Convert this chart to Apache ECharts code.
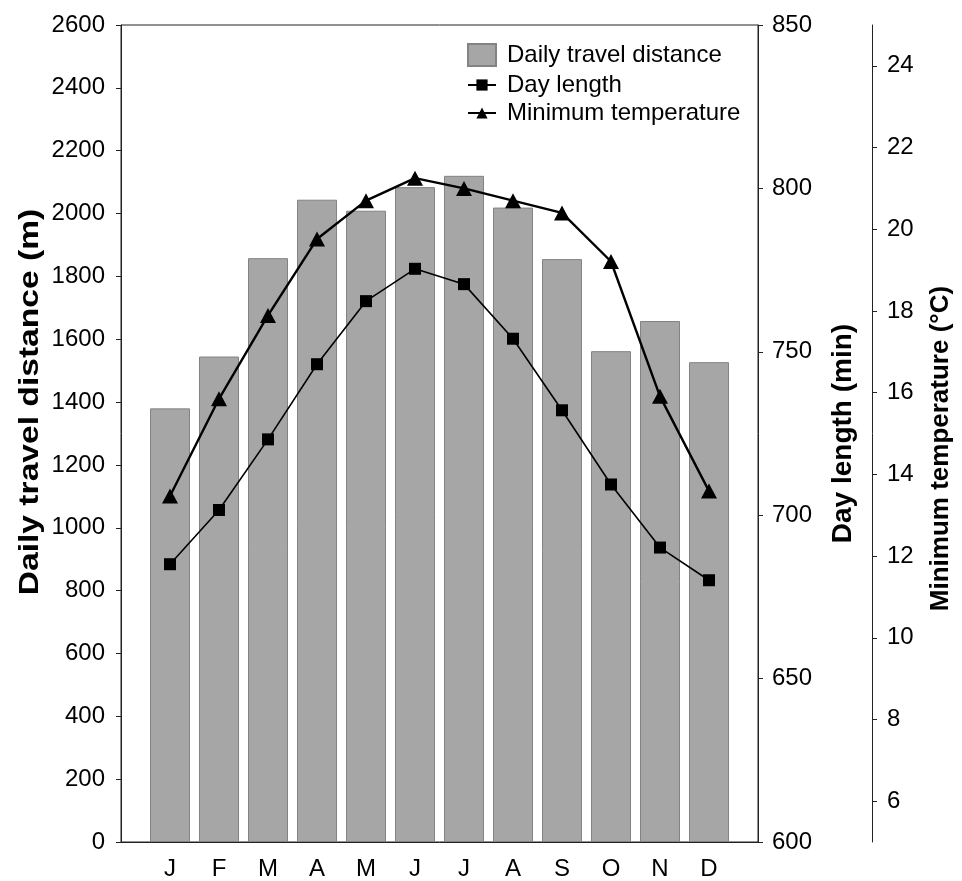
<!DOCTYPE html>
<html>
<head>
<meta charset="utf-8">
<style>
  html, body { margin: 0; padding: 0; background: #fff; }
  #chart { width: 962px; height: 881px; }
</style>
<script src="https://cdn.jsdelivr.net/npm/echarts@6/dist/echarts.min.js"></script>
</head>
<body>
<div id="chart"></div>
<script>
// Monthly means
const months = ['J', 'F', 'M', 'A', 'M', 'J', 'J', 'A', 'S', 'O', 'N', 'D'];
const travelDistance = [1380, 1545, 1858, 2044, 2009, 2084, 2120, 2019, 1855, 1562, 1658, 1527];
const dayLength = [685.0, 701.6, 723.2, 746.2, 765.5, 775.4, 770.7, 754.0, 732.1, 709.4, 690.1, 680.1];
const minTemperature = [13.47, 15.85, 17.89, 19.76, 20.70, 21.25, 21.00, 20.70, 20.40, 19.21, 15.91, 13.59];
const tempTicks = [6, 8, 10, 12, 14, 16, 18, 20, 22, 24];

const FONT = "'Liberation Sans', Arial, sans-serif";
const AXIS_COLOR = '#222';
const LABEL = { fontFamily: FONT, fontSize: 24, color: '#000' };

// month i sits at x = i + 1 on a 0..13 axis
const pairs = vals => vals.map((v, i) => [i + 1, v]);

const chart = echarts.init(document.getElementById('chart'), null, { renderer: 'canvas' });

const axisBase = {
  axisLine: { show: true, lineStyle: { color: AXIS_COLOR, width: 1 } },
  axisTick: { show: true, length: 5, lineStyle: { color: AXIS_COLOR, width: 1 } },
  splitLine: { show: false },
  nameLocation: 'middle',
  nameRotate: 90,
};

const legendText = Object.assign({}, LABEL, { lineHeight: 24, padding: [0, 0, 0, 6] });

chart.setOption({
  animation: false,
  backgroundColor: '#fff',
  grid: {
    left: 121, right: 201, top: 25, bottom: 38,
    show: true, borderColor: AXIS_COLOR, borderWidth: 1, backgroundColor: 'transparent'
  },
  // left axis title, drawn slightly stretched along its length
  graphic: [{
    type: 'text',
    x: 30, y: 402,
    rotation: Math.PI / 2,
    scaleX: 1.2,
    style: {
      text: 'Daily travel distance (m)',
      font: "bold 28px 'Liberation Sans', Arial, sans-serif",
      fill: '#000',
      align: 'center',
      verticalAlign: 'middle'
    }
  }],
  legend: [
    {
      data: [{ name: 'Daily travel distance', icon: 'rect' }],
      left: 462, top: 38,
      itemWidth: 28, itemHeight: 22,
      textStyle: legendText
    },
    {
      data: ['Day length', 'Minimum temperature'],
      orient: 'vertical',
      left: 462, top: 68,
      itemWidth: 28, itemHeight: 14, itemGap: 4,
      textStyle: legendText
    }
  ],
  xAxis: {
    type: 'value',
    min: 0, max: 13, interval: 1,
    axisLine: { show: true, lineStyle: { color: AXIS_COLOR, width: 1 } },
    axisTick: { show: false },
    splitLine: { show: false },
    axisLabel: Object.assign({}, LABEL, {
      margin: 15,
      formatter: v => months[v - 1] || ''
    })
  },
  yAxis: [
    Object.assign({}, axisBase, {
      type: 'value', position: 'left',
      min: 0, max: 2600, interval: 200,
      axisLabel: Object.assign({}, LABEL, { margin: 16, formatter: v => String(v) })
    }),
    Object.assign({}, axisBase, {
      type: 'value', position: 'right',
      min: 600, max: 850, interval: 50,
      name: 'Day length (min)', nameGap: 71,
      nameTextStyle: { fontFamily: FONT, fontSize: 28, fontWeight: 'bold', color: '#000' },
      axisLabel: Object.assign({}, LABEL, { margin: 14, formatter: v => String(v) })
    }),
    Object.assign({}, axisBase, {
      type: 'value', position: 'right', offset: 114,
      min: 5, max: 25, interval: 1,
      name: 'Minimum temperature (°C)', nameGap: 56,
      nameTextStyle: { fontFamily: FONT, fontSize: 26, fontWeight: 'bold', color: '#000', padding: [0, 30, 0, 0] },
      axisTick: { show: true, length: 5, customValues: tempTicks, lineStyle: { color: AXIS_COLOR, width: 1 } },
      axisLabel: Object.assign({}, LABEL, { margin: 15, customValues: tempTicks })
    })
  ],
  series: [
    {
      name: 'Daily travel distance',
      type: 'bar',
      xAxisIndex: 0, yAxisIndex: 0,
      barWidth: 40,
      itemStyle: { color: '#a6a6a6', borderColor: '#838383', borderWidth: 1 },
      data: pairs(travelDistance)
    },
    {
      name: 'Day length',
      type: 'line',
      xAxisIndex: 0, yAxisIndex: 1,
      symbol: 'rect', symbolSize: 12,
      lineStyle: { color: '#000', width: 1.6 },
      itemStyle: { color: '#000' },
      data: pairs(dayLength)
    },
    {
      name: 'Minimum temperature',
      type: 'line',
      xAxisIndex: 0, yAxisIndex: 2,
      symbol: 'triangle', symbolSize: [16, 15],
      lineStyle: { color: '#000', width: 2.4 },
      itemStyle: { color: '#000' },
      data: pairs(minTemperature)
    }
  ]
});
</script>
</body>
</html>
